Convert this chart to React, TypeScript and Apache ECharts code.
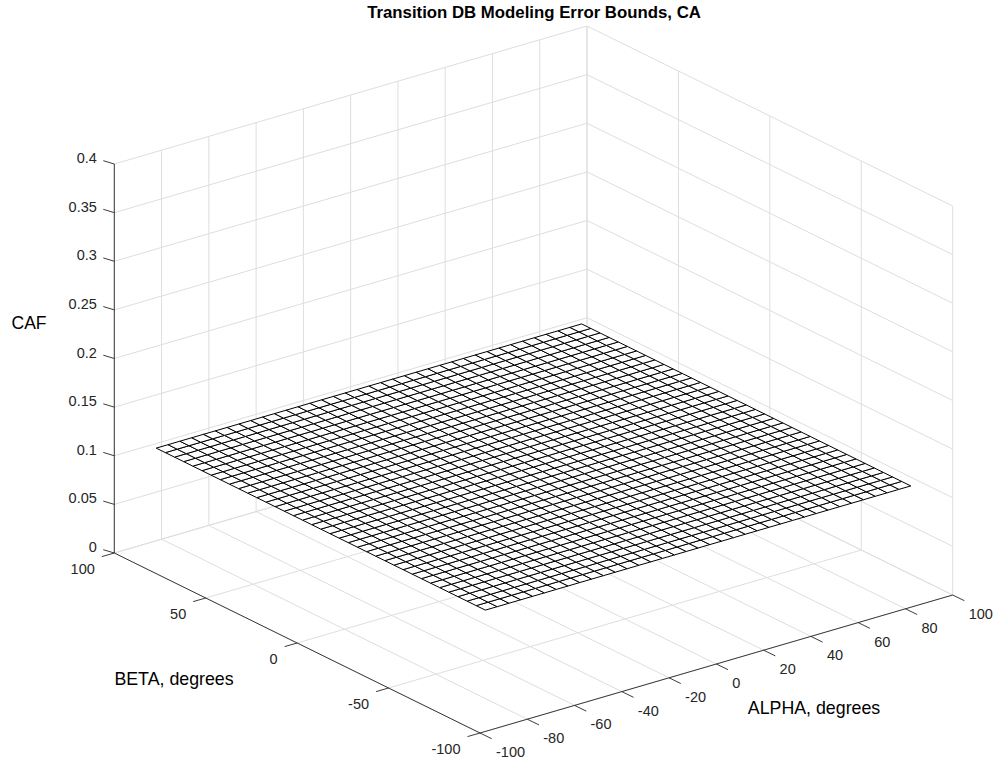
import React, { useEffect, useRef } from "react";
import * as echarts from "echarts";

// ---------- data ----------
const chartTitle = "Transition DB Modeling Error Bounds, CA";
const alphaName = "ALPHA, degrees";
const betaName = "BETA, degrees";
const cafName = "CAF";

const alphaTicks = [-100, -80, -60, -40, -20, 0, 20, 40, 60, 80, 100];
const betaTicks = [-100, -50, 0, 50, 100];
const cafTicks = [0, 0.05, 0.1, 0.15, 0.2, 0.25, 0.3, 0.35, 0.4];
const cafTickLabels = ["0", "0.05", "0.1", "0.15", "0.2", "0.25", "0.3", "0.35", "0.4"];

// surface mesh nodes (degrees)
const alphaGrid = [
  -90, -85, -80, -75, -70, -65, -60, -55, -50, -45, -40, -35, -30, -25, -20, -15, -10, -5, 0,
  5, 10, 15, 20, 25, 30, 35, 40, 45, 50, 55, 60, 65, 70, 75, 80, 85, 90,
];
const betaGrid = [
  -90, -85, -80, -75, -70, -65, -60, -55, -50, -45, -40, -35, -30, -25, -20, -15, -10, -5, 0,
  5, 10, 15, 20, 25, 30, 35, 40, 45, 50, 55, 60, 65, 70, 75, 80, 85, 90,
];
// CAF error bound along each beta row (flat surface)
const cafByBeta = [
  0.11, 0.11, 0.11, 0.11, 0.11, 0.11, 0.11, 0.11, 0.11, 0.11, 0.11, 0.11, 0.11, 0.11, 0.11,
  0.11, 0.11, 0.11, 0.11, 0.11, 0.11, 0.11, 0.11, 0.11, 0.11, 0.11, 0.11, 0.11, 0.11, 0.11,
  0.11, 0.11, 0.11, 0.11, 0.11, 0.11, 0.11,
];

const alphaRange = [-100, 100];
const betaRange = [-100, 100];
const cafRange = [0, 0.4];

// ---------- view (orthographic projection of the 3-D box) ----------
const ORIGIN = [480, 733]; // (alpha min, beta min, caf min)
const EA = [472.7 / 200, -138 / 200];
const EB = [-365.7 / 200, -180 / 200];
const EC = [0, -389 / 0.4];

function project(a: number, b: number, c: number): number[] {
  const da = a - alphaRange[0];
  const db = b - betaRange[0];
  const dc = c - cafRange[0];
  return [
    ORIGIN[0] + da * EA[0] + db * EB[0] + dc * EC[0],
    ORIGIN[1] + da * EA[1] + db * EB[1] + dc * EC[1],
  ];
}

const FONT = '"Liberation Sans", Arial, Helvetica, sans-serif';
const AXIS_COLOR = "#262626";
const GRID_COLOR = "#dedede";

type Seg = number[];

function buildGrid(): Seg[] {
  const [a0, a1] = alphaRange;
  const [b0, b1] = betaRange;
  const [c0, c1] = cafRange;
  const s: Seg[] = [];
  // floor
  alphaTicks.forEach((a) => s.push([a, b0, c0, a, b1, c0]));
  betaTicks.forEach((b) => s.push([a0, b, c0, a1, b, c0]));
  // back-left wall (beta = max)
  alphaTicks.forEach((a) => s.push([a, b1, c0, a, b1, c1]));
  cafTicks.forEach((c) => s.push([a0, b1, c, a1, b1, c]));
  // back-right wall (alpha = max)
  betaTicks.forEach((b) => s.push([a1, b, c0, a1, b, c1]));
  cafTicks.forEach((c) => s.push([a1, b0, c, a1, b1, c]));
  return s;
}

type AxisItem = { seg: Seg; tick?: number[] };

function buildAxes(): AxisItem[] {
  const [a0, a1] = alphaRange;
  const [b0, b1] = betaRange;
  const [c0, c1] = cafRange;
  const items: AxisItem[] = [];
  items.push({ seg: [a0, b1, c0, a0, b1, c1] });
  items.push({ seg: [a0, b0, c0, a0, b1, c0] });
  items.push({ seg: [a0, b0, c0, a1, b0, c0] });
  cafTicks.forEach((c) => items.push({ seg: [a0, b1, c, a0, b1, c], tick: [-11, -3.3] }));
  betaTicks.forEach((b) => items.push({ seg: [a0, b, c0, a0, b, c0], tick: [-12.5, 3.6] }));
  alphaTicks.forEach((a) => items.push({ seg: [a, b0, c0, a, b0, c0], tick: [11.7, 5.7] }));
  return items;
}

type LabelItem = {
  p: number[];
  text: string;
  dx: number;
  dy: number;
  align: string;
  size: number;
};

function buildLabels(): LabelItem[] {
  const [a0] = alphaRange;
  const [b0, b1] = betaRange;
  const [c0] = cafRange;
  const L: LabelItem[] = [];
  cafTicks.forEach((c, i) =>
    L.push({ p: [a0, b1, c], text: cafTickLabels[i], dx: -17.5, dy: -6, align: "right", size: 14.5 })
  );
  betaTicks.forEach((b) =>
    L.push({ p: [a0, b, c0], text: String(b), dx: -19.5, dy: 16, align: "right", size: 14.5 })
  );
  alphaTicks.forEach((a) =>
    L.push({ p: [a, b0, c0], text: String(a), dx: 16, dy: 19, align: "left", size: 14.5 })
  );
  return L;
}

export default function App() {
  const ref = useRef<HTMLDivElement>(null);

  useEffect(() => {
    if (!ref.current) return;
    const chart = echarts.init(ref.current, null, { renderer: "svg" });

    const gridSegs = buildGrid();
    const axes = buildAxes();
    const labels = buildLabels();

    const cells: number[][] = [];
    for (let j = 0; j < betaGrid.length - 1; j++) {
      for (let i = 0; i < alphaGrid.length - 1; i++) cells.push([i, j]);
    }

    const option: any = {
      animation: false,
      backgroundColor: "#ffffff",
      title: {
        text: chartTitle,
        left: 534,
        top: 4,
        textAlign: "center",
        padding: 0,
        textStyle: { fontSize: 16.8, fontWeight: "bold", color: "#000", fontFamily: FONT },
      },
      grid: { left: 0, right: 0, top: 0, bottom: 0 },
      xAxis: { type: "value", min: 0, max: 998, show: false },
      yAxis: { type: "value", min: 0, max: 763, inverse: true, show: false },
      graphic: [
        {
          type: "text",
          x: 29,
          y: 323,
          style: { text: cafName, fill: "#000", fontSize: 17.5, fontFamily: FONT, align: "center", verticalAlign: "middle" },
        },
        {
          type: "text",
          x: 174,
          y: 678.5,
          style: { text: betaName, fill: "#000", fontSize: 17.8, fontFamily: FONT, align: "center", verticalAlign: "middle" },
        },
        {
          type: "text",
          x: 814,
          y: 708,
          style: { text: alphaName, fill: "#000", fontSize: 17.8, fontFamily: FONT, align: "center", verticalAlign: "middle" },
        },
      ],
      series: [
        {
          type: "custom",
          name: "grid",
          coordinateSystem: "cartesian2d",
          clip: false,
          silent: true,
          data: gridSegs.map((_, i) => [i, 0]),
          renderItem: (params: any, api: any) => {
            const s = gridSegs[params.dataIndex];
            const p1 = api.coord(project(s[0], s[1], s[2]));
            const p2 = api.coord(project(s[3], s[4], s[5]));
            return {
              type: "line",
              shape: { x1: p1[0], y1: p1[1], x2: p2[0], y2: p2[1] },
              style: { stroke: GRID_COLOR, lineWidth: 1 },
            };
          },
        },
        {
          type: "custom",
          name: "axes",
          coordinateSystem: "cartesian2d",
          clip: false,
          silent: true,
          data: axes.map((_, i) => [i, 0]),
          renderItem: (params: any, api: any) => {
            const it = axes[params.dataIndex];
            const s = it.seg;
            const p1 = api.coord(project(s[0], s[1], s[2]));
            let p2 = api.coord(project(s[3], s[4], s[5]));
            if (it.tick) p2 = [p1[0] + it.tick[0], p1[1] + it.tick[1]];
            return {
              type: "line",
              shape: { x1: p1[0], y1: p1[1], x2: p2[0], y2: p2[1] },
              style: { stroke: AXIS_COLOR, lineWidth: 0.9 },
            };
          },
        },
        {
          type: "custom",
          name: "tickLabels",
          coordinateSystem: "cartesian2d",
          clip: false,
          silent: true,
          data: labels.map((_, i) => [i, 0]),
          renderItem: (params: any, api: any) => {
            const l = labels[params.dataIndex];
            const p = api.coord(project(l.p[0], l.p[1], l.p[2]));
            return {
              type: "text",
              x: p[0] + l.dx,
              y: p[1] + l.dy,
              style: {
                text: l.text,
                fill: AXIS_COLOR,
                fontSize: l.size,
                fontFamily: FONT,
                align: l.align,
                verticalAlign: "middle",
              },
            };
          },
        },
        {
          type: "custom",
          name: "CAF surface",
          coordinateSystem: "cartesian2d",
          clip: false,
          silent: true,
          data: cells.map((c) => [c[0], c[1]]),
          renderItem: (params: any, api: any) => {
            const [i, j] = cells[params.dataIndex];
            const corners = [
              [alphaGrid[i], betaGrid[j], cafByBeta[j]],
              [alphaGrid[i + 1], betaGrid[j], cafByBeta[j]],
              [alphaGrid[i + 1], betaGrid[j + 1], cafByBeta[j + 1]],
              [alphaGrid[i], betaGrid[j + 1], cafByBeta[j + 1]],
            ];
            const pts = corners.map((c) => api.coord(project(c[0], c[1], c[2])));
            return {
              type: "polygon",
              shape: { points: pts },
              style: { fill: "#ffffff", stroke: "#000000", lineWidth: 1 },
            };
          },
        },
      ],
    };

    chart.setOption(option);
    return () => chart.dispose();
  }, []);

  return (
    <div
      ref={ref}
      style={{ position: "fixed", left: 0, top: 0, width: 998, height: 763, background: "#fff" }}
    />
  );
}
